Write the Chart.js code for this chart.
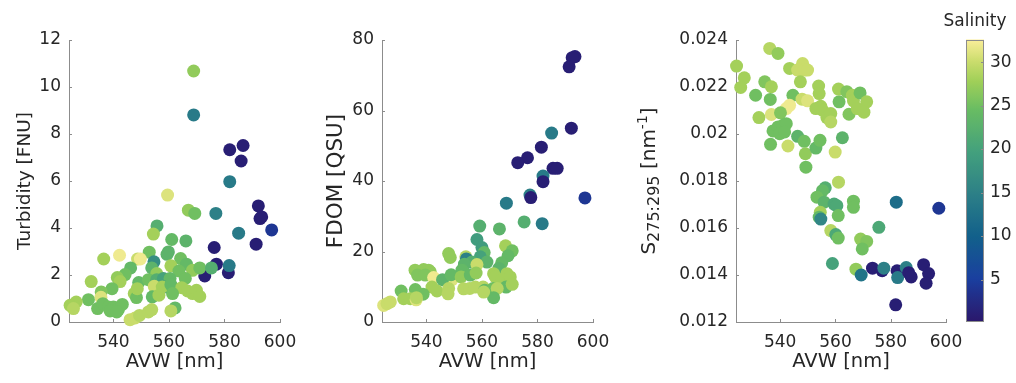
<!DOCTYPE html>
<html><head><meta charset="utf-8">
<script src="https://cdn.jsdelivr.net/npm/chart.js@4.4.0/dist/chart.umd.min.js"></script>
<style>
html,body{margin:0;padding:0;background:#fff;}
#wrap{position:relative;width:1016px;height:383px;overflow:hidden;}
#wrap canvas{position:absolute;left:0;top:0;}
</style></head><body>
<div id="wrap">
<canvas id="c1" width="1016" height="383"></canvas>
<canvas id="c2" width="1016" height="383"></canvas>
<canvas id="c3" width="1016" height="383"></canvas>
<canvas id="c4" width="1016" height="383"></canvas>
</div>
<script>
// ---------------- data ----------------
const X_TICKS = [540, 560, 580, 600];
const X_TICK_LABELS = ['540', '560', '580', '600'];
const X_MIN = 524, X_MAX = 600;

const TURB_TICKS = [0, 2, 4, 6, 8, 10, 12];
const TURB_TICK_LABELS = ['0', '2', '4', '6', '8', '10', '12'];
const FDOM_TICKS = [0, 20, 40, 60, 80];
const FDOM_TICK_LABELS = ['0', '20', '40', '60', '80'];
const S_TICKS = [0.012, 0.014, 0.016, 0.018, 0.020, 0.022, 0.024];
const S_TICK_LABELS = ['0.012', '0.014', '0.016', '0.018', '0.02', '0.022', '0.024'];
const SAL_TICKS = [5, 10, 15, 20, 25, 30];
const SAL_TICK_LABELS = ['5', '10', '15', '20', '25', '30'];
const SAL_MIN = 0.23, SAL_MAX = 32.6;

// Panel 1: AVW vs Turbidity
const AVW1 = [568.9,568.9,581.9,586.7,586.0,581.9,559.5,567.0,569.3,576.9,
  592.2,592.8,593.4,597.0,585.1,591.4,576.3,577.1,572.9,581.4,
  581.7,555.7,554.4,561.0,566.1,552.9,559.8,559.3,542.2,536.5,
  548.7,549.7,554.6,564.2,560.7,566.3,546.2,553.8,563.6,568.5,
  571.1,575.3,555.6,544.2,541.4,549.1,552.6,555.6,558.0,560.4,
  565.9,558.3,554.7,557.6,560.7,564.6,542.4,532.0,539.5,535.6,
  535.5,547.5,548.3,548.6,554.0,556.4,561.3,566.7,568.5,569.9,
  571.1,531.0,526.6,524.4,525.6,534.3,536.2,538.2,540.0,541.8,
  538.8,543.2,541.2,546.0,547.8,549.4,552.6,553.8,562.2,560.7];
const TURB = [10.68,8.81,7.33,7.51,6.85,5.97,5.40,4.76,4.62,4.62,
  4.94,4.40,4.47,3.92,3.78,3.31,3.17,2.46,1.96,2.10,
  2.40,4.09,3.74,3.51,3.45,2.97,2.98,2.88,2.84,2.68,
  2.68,2.68,2.56,2.70,2.39,2.46,2.30,2.30,2.17,2.20,
  2.30,2.30,2.06,2.02,1.89,1.68,1.80,1.80,1.85,1.85,
  1.85,1.49,1.52,1.49,1.59,1.46,1.72,1.72,1.42,1.28,
  1.05,1.21,1.04,1.42,1.07,1.14,1.21,1.32,1.21,1.35,
  1.09,0.95,0.85,0.71,0.57,0.57,0.78,0.64,0.64,0.53,
  0.47,0.75,0.43,0.10,0.17,0.28,0.43,0.53,0.60,0.47];
const SAL1 = [27,14,1,1,1,14,31,27,25,15,
  1,1,1,4,14,1,1,1,1,1,
  14,22,28,24,23,25,23,23,32,28,
  30,32,17,25,28,24,24,23,25,27,
  25,22,27,25,27,24,25,22,20,24,
  25,19,30,28,24,28,28,28,25,26,
  31,28,25,28,24,28,25,28,28,28,
  28,25,28,28,29,25,25,25,25,25,
  25,25,25,30,30,29,29,29,24,29];

// Panel 2: AVW vs FDOM
const AVW2 = [593.5,592.5,591.4,592.2,585.1,581.4,576.4,572.9,585.6,587.1,
  582.0,582.0,577.3,577.6,597.1,568.8,575.2,581.7,559.2,566.3,
  558.2,568.5,560.0,570.9,560.8,548.0,548.6,554.2,554.4,569.4,
  559.4,561.8,556.4,553.7,567.1,558.2,566.1,552.8,535.9,539.0,
  541.4,540.8,536.8,539.6,542.6,549.2,545.8,548.9,552.5,555.8,
  557.9,564.2,564.8,567.2,569.0,570.2,568.7,570.9,542.0,543.8,
  548.0,547.8,553.4,555.6,557.6,560.4,561.0,564.0,565.5,564.2,
  560.6,530.9,536.0,538.8,531.8,534.2,536.3,536.4,524.6,525.8,527.0];
const FDOM = [75.3,75.0,72.4,55.0,53.6,49.6,46.6,45.2,43.6,43.6,
  41.4,39.8,36.0,35.3,35.2,33.7,28.4,27.9,27.2,26.4,
  23.4,21.6,21.1,20.2,19.7,19.4,18.3,18.5,17.9,18.8,
  18.5,17.0,17.0,16.4,16.8,16.3,15.2,14.7,14.7,14.9,
  14.2,14.7,13.3,13.3,12.6,12.0,12.0,13.4,12.8,13.3,
  13.9,13.7,12.8,12.0,13.7,12.8,9.9,10.7,9.9,8.8,
  9.5,8.0,9.4,9.5,9.9,9.9,9.0,9.5,9.5,6.9,
  8.5,8.8,9.2,7.9,6.6,6.6,6.3,6.9,4.7,5.2,5.7];
const SAL2 = [1,1,1,1,14,1,1,1,1,1,
  14,1,15,1,4,14,22,14,22,23,
  19,28,19,25,24,27,27,29,15,24,
  20,23,22,23,24,30,23,24,27,27,
  27,27,26,26,32,31,23,24,27,24,
  27,28,28,28,28,28,24,28,28,28,
  29,29,29,29,29,29,24,25,29,24,
  29,25,25,25,28,28,31,29,31,30,30];

// Panel 3: AVW vs S275:295
const AVW3 = [536.2,539.2,524.2,527.0,525.7,534.4,536.8,531.1,536.4,543.4,
  548.1,546.3,548.7,549.9,547.3,544.6,547.9,549.9,543.4,542.2,
  532.3,536.8,540.1,537.4,539.2,541.0,542.2,539.8,541.6,536.5,
  542.8,546.3,548.7,549.1,549.3,552.9,554.4,553.9,554.1,552.9,
  554.7,555.3,556.9,558.3,558.3,559.9,561.3,562.5,561.1,564.1,
  566.1,566.5,564.9,567.9,568.9,571.3,570.3,561.1,556.3,555.3,
  553.3,555.9,559.5,560.5,566.5,566.5,554.5,554.1,554.7,561.0,
  558.3,560.1,561.0,569.1,571.3,569.7,575.7,558.9,567.4,569.3,
  573.4,576.9,577.5,582.0,597.4,582.3,582.5,585.6,586.5,587.4,
  591.9,593.7,592.8,581.8];
const S275 = [0.02364,0.02343,0.02289,0.02239,0.02198,0.02222,0.02201,0.02165,0.02147,0.02279,
  0.02300,0.02272,0.02272,0.02272,0.02222,0.02165,0.02148,0.02141,0.02122,0.02108,
  0.02070,0.02083,0.02090,0.02013,0.02030,0.02037,0.02044,0.02001,0.02009,0.01956,
  0.01949,0.01990,0.01969,0.01916,0.01859,0.01940,0.01973,0.02204,0.02172,0.02108,
  0.02118,0.02101,0.02070,0.02087,0.02051,0.01923,0.02137,0.01984,0.02191,0.02180,
  0.02165,0.02141,0.02084,0.02108,0.02175,0.02137,0.02093,0.01795,0.01771,0.01759,
  0.01731,0.01710,0.01702,0.01695,0.01714,0.01688,0.01667,0.01646,0.01638,0.01653,
  0.01589,0.01572,0.01557,0.01553,0.01543,0.01511,0.01603,0.01449,0.01425,0.01400,
  0.01429,0.01418,0.01429,0.01710,0.01684,0.01418,0.01389,0.01432,0.01410,0.01392,
  0.01444,0.01406,0.01365,0.01273];
const SAL3 = [29,27,28,28,28,26,28,25,25,28,
  30,30,30,30,28,25,30,31,32,32,
  28,31,26,25,25,25,25,25,25,25,
  30,23,25,27,25,24,25,28,28,28,
  28,28,28,28,29,30,25,23,28,26,
  28,28,26,28,25,28,28,29,22,24,
  25,23,21,21,25,25,28,24,16,25,
  29,21,25,27,26,25,21,20,27,13,
  1,1,15,12,4,1,14,15,1,1,
  1,1,1,1];

// ---------------- style ----------------
const W = 1016, H = 383;
const FONT = "'DejaVu Sans', sans-serif";
const TXT = '#262626';
const AXIS = '#8c8c8c';
const YW = 69;            // width reserved for y axis
const CMAP = [[0,'#2a186c'],[0.08,'#232c86'],[0.15,'#1a3f9f'],[0.3,'#12608b'],[0.45,'#2c7f87'],
  [0.6,'#43a07d'],[0.75,'#68bc63'],[0.85,'#9fcf58'],[0.92,'#c9dc6b'],[1,'#fbee9a']];

function hex2rgb(h){return [parseInt(h.substr(1,2),16),parseInt(h.substr(3,2),16),parseInt(h.substr(5,2),16)];}
function cmapT(t){
  t = Math.min(1, Math.max(0, t));
  for (let i = 1; i < CMAP.length; i++) {
    if (t <= CMAP[i][0]) {
      const [t0,c0] = CMAP[i-1], [t1,c1] = CMAP[i];
      const f = (t - t0) / (t1 - t0), a = hex2rgb(c0), b = hex2rgb(c1);
      return 'rgb(' + a.map((v,k)=>Math.round(v + (b[k]-v)*f)).join(',') + ')';
    }
  }
  return CMAP[CMAP.length-1][1];
}
function cmap(s){ return cmapT((s - SAL_MIN) / (SAL_MAX - SAL_MIN)); }

Chart.defaults.color = TXT;
Chart.defaults.font.family = FONT;

const inTicks = {
  id: 'inTicks',
  beforeDatasetsDraw(chart) {
    const ctx = chart.ctx, a = chart.chartArea, L = 3;
    ctx.save(); ctx.strokeStyle = AXIS; ctx.lineWidth = 1;
    ['x','y'].forEach(id => {
      const s = chart.scales[id];
      if (!s || !s.options.display) return;
      s.ticks.forEach((t, i) => {
        const p = Math.round(s.getPixelForTick(i)) + 0.5;
        ctx.beginPath();
        if (s.isHorizontal()) { ctx.moveTo(p, a.bottom); ctx.lineTo(p, a.bottom - L); }
        else { ctx.moveTo(a.left, p); ctx.lineTo(a.left + L, p); }
        ctx.stroke();
      });
    });
    ctx.restore();
  }
};

function panel(id, xs, ys, sal, area, y) {
  return new Chart(document.getElementById(id), {
    type: 'scatter',
    data: { datasets: [{
      data: xs.map((x, i) => ({ x: x, y: ys[i] })),
      pointRadius: 6.5, pointHoverRadius: 6.5, pointBorderWidth: 0,
      pointBackgroundColor: sal.map(cmap), clip: false
    }]},
    options: {
      responsive: false, animation: false, events: [],
      layout: { autoPadding: false, padding: { left: area.left - YW, right: W - area.right, top: area.top, bottom: 0 } },
      plugins: { legend: { display: false }, tooltip: { enabled: false } },
      scales: {
        x: {
          type: 'linear', min: X_MIN, max: X_MAX,
          afterFit(s) { s.height = H - area.bottom; },
          afterBuildTicks(s) { s.ticks = X_TICKS.map(v => ({ value: v })); },
          grid: { display: false, drawTicks: false },
          border: { display: true, color: AXIS, width: 1 },
          ticks: { font: { family: FONT, size: 17 }, color: TXT, padding: 10, maxRotation: 0, autoSkip: false,
                   callback: (v, i) => X_TICK_LABELS[i] },
          title: { display: true, text: 'AVW [nm]', font: { family: FONT, size: 19.5 }, color: TXT,
                   padding: { top: 0, bottom: 9.5 } }
        },
        y: {
          type: 'linear', min: y.min, max: y.max,
          afterFit(s) { s.width = YW; },
          afterBuildTicks(s) { s.ticks = y.ticks.map(v => ({ value: v })); },
          grid: { display: false, drawTicks: false },
          border: { display: true, color: AXIS, width: 1 },
          ticks: { font: { family: FONT, size: 17 }, color: TXT, padding: 8, autoSkip: false,
                   callback: (v, i) => y.labels[i] },
          title: y.title ? { display: true, text: y.title, font: { family: FONT, size: y.titleSize }, color: TXT,
                   padding: { top: y.titlePad, bottom: 0 } } : { display: false }
        }
      }
    },
    plugins: [inTicks].concat(y.extra || [])
  });
}

const sLabel = {
  id: 'sLabel',
  afterDraw(chart) {
    const ctx = chart.ctx;
    const parts = [
      { t: 'S', s: 20, dy: 0 }, { t: '275:295', s: 16, dy: 4 },
      { t: ' [nm', s: 20, dy: 0 }, { t: '-1', s: 14, dy: -8 }, { t: ']', s: 20, dy: 0 }
    ];
    ctx.save();
    let total = 0;
    parts.forEach(p => { ctx.font = p.s + 'px ' + FONT; p.w = ctx.measureText(p.t).width; total += p.w; });
    ctx.translate(655, 181); ctx.rotate(-Math.PI / 2);
    ctx.fillStyle = TXT; ctx.textBaseline = 'alphabetic'; ctx.textAlign = 'left';
    let x = -total / 2;
    parts.forEach(p => { ctx.font = p.s + 'px ' + FONT; ctx.fillText(p.t, x, p.dy); x += p.w; });
    ctx.restore();
  }
};

panel('c1', AVW1, TURB, SAL1, { left: 69, right: 280, top: 40, bottom: 322 },
  { min: 0, max: 12, ticks: TURB_TICKS, labels: TURB_TICK_LABELS, title: 'Turbidity [FNU]', titleSize: 18.5, titlePad: 14 });
panel('c2', AVW2, FDOM, SAL2, { left: 382, right: 593, top: 40, bottom: 322 },
  { min: 0, max: 80, ticks: FDOM_TICKS, labels: FDOM_TICK_LABELS, title: 'FDOM [QSU]', titleSize: 21.5, titlePad: 10.5 });
panel('c3', AVW3, S275, SAL3, { left: 736, right: 946, top: 40, bottom: 322 },
  { min: 0.012, max: 0.024, ticks: S_TICKS, labels: S_TICK_LABELS, title: null, extra: [sLabel] });

// ---------------- colorbar ----------------
const CB = { left: 966, right: 984, top: 39.5, bottom: 321 };
const CBW = 32;
const cbarPlugin = {
  id: 'cbar',
  beforeDatasetsDraw(chart) {
    const a = chart.chartArea, ctx = chart.ctx, ys = chart.scales.y;
    ctx.save();
    const g = ctx.createLinearGradient(0, a.bottom, 0, a.top);
    for (let i = 0; i <= 40; i++) { const t = i / 40; g.addColorStop(t, cmapT(t)); }
    ctx.fillStyle = g;
    ctx.fillRect(a.left, a.top, a.right - a.left, a.bottom - a.top);
    ctx.strokeStyle = AXIS; ctx.lineWidth = 1;
    ctx.strokeRect(Math.round(a.left) + 0.5, Math.round(a.top) + 0.5, Math.round(a.right - a.left) - 1, Math.round(a.bottom - a.top) - 1);
    ys.ticks.forEach((t, i) => {
      const p = Math.round(ys.getPixelForTick(i)) + 0.5;
      ctx.beginPath(); ctx.moveTo(a.right, p); ctx.lineTo(a.right - 3, p); ctx.stroke();
    });
    ctx.font = '17px ' + FONT; ctx.fillStyle = TXT; ctx.textAlign = 'center'; ctx.textBaseline = 'middle';
    ctx.fillText('Salinity', 975, 22);
    ctx.restore();
  }
};
new Chart(document.getElementById('c4'), {
  type: 'scatter',
  data: { datasets: [] },
  options: {
    responsive: false, animation: false, events: [],
    layout: { autoPadding: false, padding: { left: CB.left, right: W - CB.right - CBW, top: CB.top, bottom: H - CB.bottom } },
    plugins: { legend: { display: false }, tooltip: { enabled: false } },
    scales: {
      x: { display: false, min: 0, max: 1 },
      y: {
        position: 'right', min: SAL_MIN, max: SAL_MAX,
        afterFit(s) { s.width = CBW; },
        afterBuildTicks(s) { s.ticks = SAL_TICKS.map(v => ({ value: v })); },
        grid: { display: false, drawTicks: false },
        border: { display: false },
        ticks: { font: { family: FONT, size: 17 }, color: TXT, padding: 6, autoSkip: false,
                 callback: (v, i) => SAL_TICK_LABELS[i] }
      }
    }
  },
  plugins: [cbarPlugin]
});
</script>
</body></html>
